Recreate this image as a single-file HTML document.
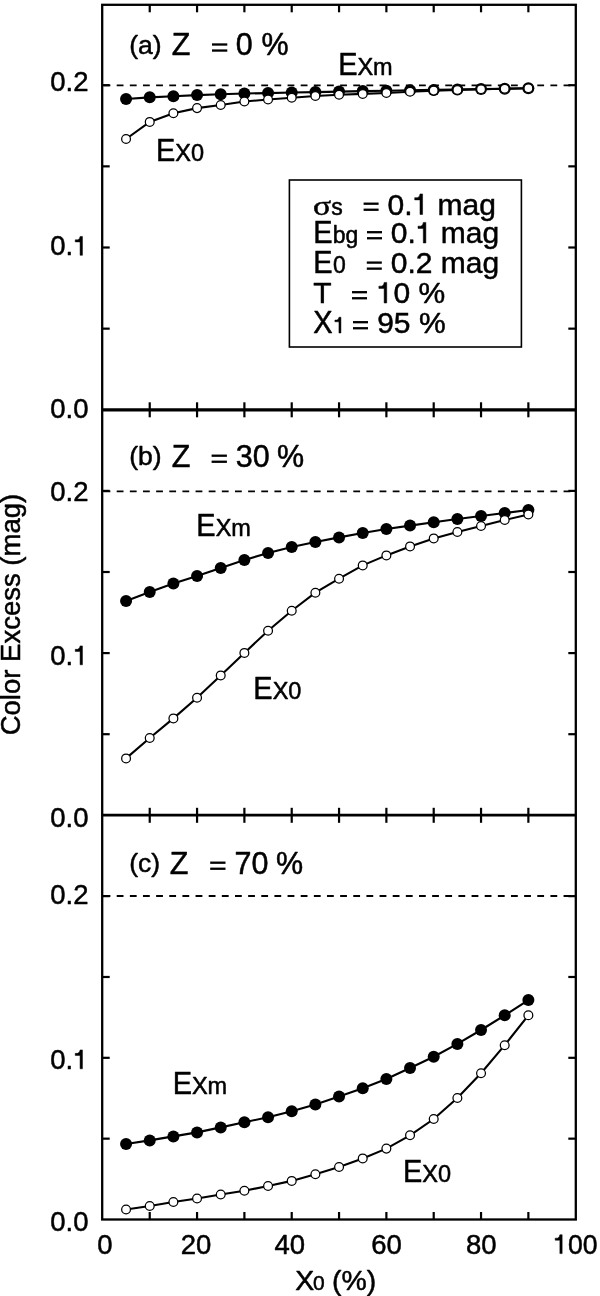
<!DOCTYPE html>
<html><head><meta charset="utf-8"><style>
html,body{margin:0;padding:0;background:#fff;}
svg{display:block;font-family:"Liberation Sans",sans-serif;will-change:transform;}
text{stroke:#000;stroke-width:0.5px;stroke-linejoin:round;white-space:pre;}
</style></head><body>
<svg width="600" height="1296" viewBox="0 0 600 1296" xml:space="preserve" font-family="Liberation Sans, sans-serif"><g stroke="#000" stroke-width="2.3" fill="none">
<rect x="102.2" y="4.8" width="473.59999999999997" height="1214.7"/>
</g>
<g stroke="#000">
<line x1="102.2" y1="409.9" x2="575.8" y2="409.9" stroke-width="3.2"/>
<line x1="102.2" y1="815.2" x2="575.8" y2="815.2" stroke-width="2.7"/>
</g>
<g stroke="#000" stroke-width="2.2">
<line x1="149.73" y1="4.8" x2="149.73" y2="12.3"/>
<line x1="149.73" y1="409.8" x2="149.73" y2="402.3"/>
<line x1="197.06" y1="4.8" x2="197.06" y2="12.3"/>
<line x1="197.06" y1="409.8" x2="197.06" y2="402.3"/>
<line x1="244.39" y1="4.8" x2="244.39" y2="12.3"/>
<line x1="244.39" y1="409.8" x2="244.39" y2="402.3"/>
<line x1="291.72" y1="4.8" x2="291.72" y2="12.3"/>
<line x1="291.72" y1="409.8" x2="291.72" y2="402.3"/>
<line x1="339.05" y1="4.8" x2="339.05" y2="12.3"/>
<line x1="339.05" y1="409.8" x2="339.05" y2="402.3"/>
<line x1="386.38" y1="4.8" x2="386.38" y2="12.3"/>
<line x1="386.38" y1="409.8" x2="386.38" y2="402.3"/>
<line x1="433.71" y1="4.8" x2="433.71" y2="12.3"/>
<line x1="433.71" y1="409.8" x2="433.71" y2="402.3"/>
<line x1="481.04" y1="4.8" x2="481.04" y2="12.3"/>
<line x1="481.04" y1="409.8" x2="481.04" y2="402.3"/>
<line x1="528.37" y1="4.8" x2="528.37" y2="12.3"/>
<line x1="528.37" y1="409.8" x2="528.37" y2="402.3"/>
<line x1="102.2" y1="328.65" x2="109.7" y2="328.65"/>
<line x1="575.8" y1="328.65" x2="568.3" y2="328.65"/>
<line x1="102.2" y1="247.50" x2="109.7" y2="247.50"/>
<line x1="575.8" y1="247.50" x2="568.3" y2="247.50"/>
<line x1="102.2" y1="166.35" x2="109.7" y2="166.35"/>
<line x1="575.8" y1="166.35" x2="568.3" y2="166.35"/>
<line x1="102.2" y1="85.20" x2="109.7" y2="85.20"/>
<line x1="575.8" y1="85.20" x2="568.3" y2="85.20"/>
<line x1="149.73" y1="409.8" x2="149.73" y2="417.3"/>
<line x1="149.73" y1="815.3" x2="149.73" y2="807.8"/>
<line x1="197.06" y1="409.8" x2="197.06" y2="417.3"/>
<line x1="197.06" y1="815.3" x2="197.06" y2="807.8"/>
<line x1="244.39" y1="409.8" x2="244.39" y2="417.3"/>
<line x1="244.39" y1="815.3" x2="244.39" y2="807.8"/>
<line x1="291.72" y1="409.8" x2="291.72" y2="417.3"/>
<line x1="291.72" y1="815.3" x2="291.72" y2="807.8"/>
<line x1="339.05" y1="409.8" x2="339.05" y2="417.3"/>
<line x1="339.05" y1="815.3" x2="339.05" y2="807.8"/>
<line x1="386.38" y1="409.8" x2="386.38" y2="417.3"/>
<line x1="386.38" y1="815.3" x2="386.38" y2="807.8"/>
<line x1="433.71" y1="409.8" x2="433.71" y2="417.3"/>
<line x1="433.71" y1="815.3" x2="433.71" y2="807.8"/>
<line x1="481.04" y1="409.8" x2="481.04" y2="417.3"/>
<line x1="481.04" y1="815.3" x2="481.04" y2="807.8"/>
<line x1="528.37" y1="409.8" x2="528.37" y2="417.3"/>
<line x1="528.37" y1="815.3" x2="528.37" y2="807.8"/>
<line x1="102.2" y1="734.20" x2="109.7" y2="734.20"/>
<line x1="575.8" y1="734.20" x2="568.3" y2="734.20"/>
<line x1="102.2" y1="653.10" x2="109.7" y2="653.10"/>
<line x1="575.8" y1="653.10" x2="568.3" y2="653.10"/>
<line x1="102.2" y1="572.00" x2="109.7" y2="572.00"/>
<line x1="575.8" y1="572.00" x2="568.3" y2="572.00"/>
<line x1="102.2" y1="490.90" x2="109.7" y2="490.90"/>
<line x1="575.8" y1="490.90" x2="568.3" y2="490.90"/>
<line x1="149.73" y1="815.3" x2="149.73" y2="822.8"/>
<line x1="149.73" y1="1219.5" x2="149.73" y2="1212.0"/>
<line x1="197.06" y1="815.3" x2="197.06" y2="822.8"/>
<line x1="197.06" y1="1219.5" x2="197.06" y2="1212.0"/>
<line x1="244.39" y1="815.3" x2="244.39" y2="822.8"/>
<line x1="244.39" y1="1219.5" x2="244.39" y2="1212.0"/>
<line x1="291.72" y1="815.3" x2="291.72" y2="822.8"/>
<line x1="291.72" y1="1219.5" x2="291.72" y2="1212.0"/>
<line x1="339.05" y1="815.3" x2="339.05" y2="822.8"/>
<line x1="339.05" y1="1219.5" x2="339.05" y2="1212.0"/>
<line x1="386.38" y1="815.3" x2="386.38" y2="822.8"/>
<line x1="386.38" y1="1219.5" x2="386.38" y2="1212.0"/>
<line x1="433.71" y1="815.3" x2="433.71" y2="822.8"/>
<line x1="433.71" y1="1219.5" x2="433.71" y2="1212.0"/>
<line x1="481.04" y1="815.3" x2="481.04" y2="822.8"/>
<line x1="481.04" y1="1219.5" x2="481.04" y2="1212.0"/>
<line x1="528.37" y1="815.3" x2="528.37" y2="822.8"/>
<line x1="528.37" y1="1219.5" x2="528.37" y2="1212.0"/>
<line x1="102.2" y1="1138.66" x2="109.7" y2="1138.66"/>
<line x1="575.8" y1="1138.66" x2="568.3" y2="1138.66"/>
<line x1="102.2" y1="1057.82" x2="109.7" y2="1057.82"/>
<line x1="575.8" y1="1057.82" x2="568.3" y2="1057.82"/>
<line x1="102.2" y1="976.98" x2="109.7" y2="976.98"/>
<line x1="575.8" y1="976.98" x2="568.3" y2="976.98"/>
<line x1="102.2" y1="896.14" x2="109.7" y2="896.14"/>
<line x1="575.8" y1="896.14" x2="568.3" y2="896.14"/>
</g>
<g stroke="#000" stroke-width="1.8" stroke-dasharray="6.8 6.343">
<line x1="103.56" y1="85.4" x2="575.8" y2="85.4"/>
<line x1="103.56" y1="491.3" x2="575.8" y2="491.3"/>
<line x1="103.56" y1="896" x2="575.8" y2="896"/>
</g>
<polyline points="126.06,99 149.73,97.35 173.39,96.2 197.06,95.1 220.72,94.3 244.39,93.5 268.06,93.1 291.72,92.5 315.38,92.1 339.05,91.6 362.72,91.1 386.38,90.7 410.04,90.3 433.71,89.9 457.38,89.5 481.04,89.1 504.70,88.7 528.37,88.3" fill="none" stroke="#000" stroke-width="2.1"/>
<circle cx="126.06" cy="99" r="6" fill="#000"/>
<circle cx="149.73" cy="97.35" r="6" fill="#000"/>
<circle cx="173.39" cy="96.2" r="6" fill="#000"/>
<circle cx="197.06" cy="95.1" r="6" fill="#000"/>
<circle cx="220.72" cy="94.3" r="6" fill="#000"/>
<circle cx="244.39" cy="93.5" r="6" fill="#000"/>
<circle cx="268.06" cy="93.1" r="6" fill="#000"/>
<circle cx="291.72" cy="92.5" r="6" fill="#000"/>
<circle cx="315.38" cy="92.1" r="6" fill="#000"/>
<circle cx="339.05" cy="91.6" r="6" fill="#000"/>
<circle cx="362.72" cy="91.1" r="6" fill="#000"/>
<circle cx="386.38" cy="90.7" r="6" fill="#000"/>
<circle cx="410.04" cy="90.3" r="6" fill="#000"/>
<circle cx="433.71" cy="89.9" r="6" fill="#000"/>
<circle cx="457.38" cy="89.5" r="6" fill="#000"/>
<circle cx="481.04" cy="89.1" r="6" fill="#000"/>
<circle cx="504.70" cy="88.7" r="6" fill="#000"/>
<circle cx="528.37" cy="88.3" r="6" fill="#000"/>
<polyline points="126.06,139 149.73,121.9 173.39,113.3 197.06,108.1 220.72,105 244.39,101.5 268.06,99.5 291.72,97.75 315.38,96 339.05,94.8 362.72,93.9 386.38,93.0 410.04,91.8 433.71,90.6 457.38,89.9 481.04,89.3 504.70,88.8 528.37,88.3" fill="none" stroke="#000" stroke-width="2.1"/>
<circle cx="126.06" cy="139" r="4.4" fill="#fff" stroke="#000" stroke-width="1.25"/>
<circle cx="149.73" cy="121.9" r="4.4" fill="#fff" stroke="#000" stroke-width="1.25"/>
<circle cx="173.39" cy="113.3" r="4.4" fill="#fff" stroke="#000" stroke-width="1.25"/>
<circle cx="197.06" cy="108.1" r="4.4" fill="#fff" stroke="#000" stroke-width="1.25"/>
<circle cx="220.72" cy="105" r="4.4" fill="#fff" stroke="#000" stroke-width="1.25"/>
<circle cx="244.39" cy="101.5" r="4.4" fill="#fff" stroke="#000" stroke-width="1.25"/>
<circle cx="268.06" cy="99.5" r="4.4" fill="#fff" stroke="#000" stroke-width="1.25"/>
<circle cx="291.72" cy="97.75" r="4.4" fill="#fff" stroke="#000" stroke-width="1.25"/>
<circle cx="315.38" cy="96" r="4.4" fill="#fff" stroke="#000" stroke-width="1.25"/>
<circle cx="339.05" cy="94.8" r="4.4" fill="#fff" stroke="#000" stroke-width="1.25"/>
<circle cx="362.72" cy="93.9" r="4.4" fill="#fff" stroke="#000" stroke-width="1.25"/>
<circle cx="386.38" cy="93.0" r="4.4" fill="#fff" stroke="#000" stroke-width="1.25"/>
<circle cx="410.04" cy="91.8" r="4.4" fill="#fff" stroke="#000" stroke-width="1.25"/>
<circle cx="433.71" cy="90.6" r="4.4" fill="#fff" stroke="#000" stroke-width="1.25"/>
<circle cx="457.38" cy="89.9" r="4.4" fill="#fff" stroke="#000" stroke-width="1.25"/>
<circle cx="481.04" cy="89.3" r="4.4" fill="#fff" stroke="#000" stroke-width="1.25"/>
<circle cx="504.70" cy="88.8" r="4.4" fill="#fff" stroke="#000" stroke-width="1.25"/>
<circle cx="528.37" cy="88.3" r="4.4" fill="#fff" stroke="#000" stroke-width="1.25"/>
<polyline points="126.06,601 149.73,592 173.39,583.6 197.06,576 220.72,568 244.39,560 268.06,553 291.72,547 315.38,542 339.05,537.4 362.72,533 386.38,529 410.04,525.6 433.71,522.2 457.38,519 481.04,516 504.70,513 528.37,510" fill="none" stroke="#000" stroke-width="2.1"/>
<circle cx="126.06" cy="601" r="6" fill="#000"/>
<circle cx="149.73" cy="592" r="6" fill="#000"/>
<circle cx="173.39" cy="583.6" r="6" fill="#000"/>
<circle cx="197.06" cy="576" r="6" fill="#000"/>
<circle cx="220.72" cy="568" r="6" fill="#000"/>
<circle cx="244.39" cy="560" r="6" fill="#000"/>
<circle cx="268.06" cy="553" r="6" fill="#000"/>
<circle cx="291.72" cy="547" r="6" fill="#000"/>
<circle cx="315.38" cy="542" r="6" fill="#000"/>
<circle cx="339.05" cy="537.4" r="6" fill="#000"/>
<circle cx="362.72" cy="533" r="6" fill="#000"/>
<circle cx="386.38" cy="529" r="6" fill="#000"/>
<circle cx="410.04" cy="525.6" r="6" fill="#000"/>
<circle cx="433.71" cy="522.2" r="6" fill="#000"/>
<circle cx="457.38" cy="519" r="6" fill="#000"/>
<circle cx="481.04" cy="516" r="6" fill="#000"/>
<circle cx="504.70" cy="513" r="6" fill="#000"/>
<circle cx="528.37" cy="510" r="6" fill="#000"/>
<polyline points="126.06,758.4 149.73,738.0 173.39,718.4 197.06,697.8 220.72,675.4 244.39,652.9 268.06,630.8 291.72,610.6999999999999 315.38,592.6999999999999 339.05,578.6999999999999 362.72,565.4 386.38,555.4 410.04,546.4 433.71,538.4 457.38,532.0 481.04,526.0 504.70,520.0 528.37,514.4" fill="none" stroke="#000" stroke-width="2.1"/>
<circle cx="126.06" cy="758.4" r="4.4" fill="#fff" stroke="#000" stroke-width="1.25"/>
<circle cx="149.73" cy="738.0" r="4.4" fill="#fff" stroke="#000" stroke-width="1.25"/>
<circle cx="173.39" cy="718.4" r="4.4" fill="#fff" stroke="#000" stroke-width="1.25"/>
<circle cx="197.06" cy="697.8" r="4.4" fill="#fff" stroke="#000" stroke-width="1.25"/>
<circle cx="220.72" cy="675.4" r="4.4" fill="#fff" stroke="#000" stroke-width="1.25"/>
<circle cx="244.39" cy="652.9" r="4.4" fill="#fff" stroke="#000" stroke-width="1.25"/>
<circle cx="268.06" cy="630.8" r="4.4" fill="#fff" stroke="#000" stroke-width="1.25"/>
<circle cx="291.72" cy="610.6999999999999" r="4.4" fill="#fff" stroke="#000" stroke-width="1.25"/>
<circle cx="315.38" cy="592.6999999999999" r="4.4" fill="#fff" stroke="#000" stroke-width="1.25"/>
<circle cx="339.05" cy="578.6999999999999" r="4.4" fill="#fff" stroke="#000" stroke-width="1.25"/>
<circle cx="362.72" cy="565.4" r="4.4" fill="#fff" stroke="#000" stroke-width="1.25"/>
<circle cx="386.38" cy="555.4" r="4.4" fill="#fff" stroke="#000" stroke-width="1.25"/>
<circle cx="410.04" cy="546.4" r="4.4" fill="#fff" stroke="#000" stroke-width="1.25"/>
<circle cx="433.71" cy="538.4" r="4.4" fill="#fff" stroke="#000" stroke-width="1.25"/>
<circle cx="457.38" cy="532.0" r="4.4" fill="#fff" stroke="#000" stroke-width="1.25"/>
<circle cx="481.04" cy="526.0" r="4.4" fill="#fff" stroke="#000" stroke-width="1.25"/>
<circle cx="504.70" cy="520.0" r="4.4" fill="#fff" stroke="#000" stroke-width="1.25"/>
<circle cx="528.37" cy="514.4" r="4.4" fill="#fff" stroke="#000" stroke-width="1.25"/>
<polyline points="126.06,1144 149.73,1140.4 173.39,1136.4 197.06,1132.4 220.72,1127.4 244.39,1122.3 268.06,1117.2 291.72,1111.3 315.38,1104.4 339.05,1096.6 362.72,1088.3 386.38,1079 410.04,1068 433.71,1056.7 457.38,1043.9 481.04,1030 504.70,1015.3 528.37,1000.1" fill="none" stroke="#000" stroke-width="2.1"/>
<circle cx="126.06" cy="1144" r="6" fill="#000"/>
<circle cx="149.73" cy="1140.4" r="6" fill="#000"/>
<circle cx="173.39" cy="1136.4" r="6" fill="#000"/>
<circle cx="197.06" cy="1132.4" r="6" fill="#000"/>
<circle cx="220.72" cy="1127.4" r="6" fill="#000"/>
<circle cx="244.39" cy="1122.3" r="6" fill="#000"/>
<circle cx="268.06" cy="1117.2" r="6" fill="#000"/>
<circle cx="291.72" cy="1111.3" r="6" fill="#000"/>
<circle cx="315.38" cy="1104.4" r="6" fill="#000"/>
<circle cx="339.05" cy="1096.6" r="6" fill="#000"/>
<circle cx="362.72" cy="1088.3" r="6" fill="#000"/>
<circle cx="386.38" cy="1079" r="6" fill="#000"/>
<circle cx="410.04" cy="1068" r="6" fill="#000"/>
<circle cx="433.71" cy="1056.7" r="6" fill="#000"/>
<circle cx="457.38" cy="1043.9" r="6" fill="#000"/>
<circle cx="481.04" cy="1030" r="6" fill="#000"/>
<circle cx="504.70" cy="1015.3" r="6" fill="#000"/>
<circle cx="528.37" cy="1000.1" r="6" fill="#000"/>
<polyline points="126.06,1209.5 149.73,1206 173.39,1202 197.06,1198.5 220.72,1194.5 244.39,1190.8 268.06,1186 291.72,1180.9 315.38,1174.2 339.05,1167 362.72,1158.4 386.38,1148.6 410.04,1135.3 433.71,1119 457.38,1098 481.04,1073.2 504.70,1045.2 528.37,1015.3" fill="none" stroke="#000" stroke-width="2.1"/>
<circle cx="126.06" cy="1209.5" r="4.4" fill="#fff" stroke="#000" stroke-width="1.25"/>
<circle cx="149.73" cy="1206" r="4.4" fill="#fff" stroke="#000" stroke-width="1.25"/>
<circle cx="173.39" cy="1202" r="4.4" fill="#fff" stroke="#000" stroke-width="1.25"/>
<circle cx="197.06" cy="1198.5" r="4.4" fill="#fff" stroke="#000" stroke-width="1.25"/>
<circle cx="220.72" cy="1194.5" r="4.4" fill="#fff" stroke="#000" stroke-width="1.25"/>
<circle cx="244.39" cy="1190.8" r="4.4" fill="#fff" stroke="#000" stroke-width="1.25"/>
<circle cx="268.06" cy="1186" r="4.4" fill="#fff" stroke="#000" stroke-width="1.25"/>
<circle cx="291.72" cy="1180.9" r="4.4" fill="#fff" stroke="#000" stroke-width="1.25"/>
<circle cx="315.38" cy="1174.2" r="4.4" fill="#fff" stroke="#000" stroke-width="1.25"/>
<circle cx="339.05" cy="1167" r="4.4" fill="#fff" stroke="#000" stroke-width="1.25"/>
<circle cx="362.72" cy="1158.4" r="4.4" fill="#fff" stroke="#000" stroke-width="1.25"/>
<circle cx="386.38" cy="1148.6" r="4.4" fill="#fff" stroke="#000" stroke-width="1.25"/>
<circle cx="410.04" cy="1135.3" r="4.4" fill="#fff" stroke="#000" stroke-width="1.25"/>
<circle cx="433.71" cy="1119" r="4.4" fill="#fff" stroke="#000" stroke-width="1.25"/>
<circle cx="457.38" cy="1098" r="4.4" fill="#fff" stroke="#000" stroke-width="1.25"/>
<circle cx="481.04" cy="1073.2" r="4.4" fill="#fff" stroke="#000" stroke-width="1.25"/>
<circle cx="504.70" cy="1045.2" r="4.4" fill="#fff" stroke="#000" stroke-width="1.25"/>
<circle cx="528.37" cy="1015.3" r="4.4" fill="#fff" stroke="#000" stroke-width="1.25"/>
<rect x="289.4" y="180" width="232" height="167" fill="none" stroke="#000" stroke-width="1.6"/>
<text transform="translate(338.13 74.5) scale(0.94 1)" font-size="30.8">E</text>
<text x="357.44" y="74.5" font-size="23.5">Xm</text>
<text transform="translate(155.93 161.2) scale(0.94 1)" font-size="30.8">E</text>
<text x="175.24" y="161.2" font-size="23.5">X0</text>
<text transform="translate(196.33 535.9) scale(0.94 1)" font-size="30.8">E</text>
<text x="215.64" y="535.9" font-size="23.5">Xm</text>
<text transform="translate(253.33 699.2) scale(0.94 1)" font-size="30.8">E</text>
<text x="272.64" y="699.2" font-size="23.5">X0</text>
<text transform="translate(172.63 1094.1) scale(0.94 1)" font-size="30.8">E</text>
<text x="191.94" y="1094.1" font-size="23.5">Xm</text>
<text transform="translate(402.93 1181.5) scale(0.94 1)" font-size="30.8">E</text>
<text x="422.24" y="1181.5" font-size="23.5">X0</text>
<text x="129.26" y="54.20" font-size="26.5" >(a)</text>
<text x="171.73" y="55.30" font-size="30.5" >Z</text>
<rect x="212.00" y="43.35" width="15.3" height="2.3" fill="#000"/>
<rect x="212.00" y="49.40" width="15.3" height="2.3" fill="#000"/>
<text x="235.81" y="55.30" font-size="30.5" >0</text>
<text x="261.41" y="55.30" font-size="30.5" >%</text>
<text x="129.26" y="465.40" font-size="26.5" >(b)</text>
<text x="171.73" y="466.50" font-size="30.5" >Z</text>
<rect x="211.60" y="454.55" width="15.3" height="2.3" fill="#000"/>
<rect x="211.60" y="460.60" width="15.3" height="2.3" fill="#000"/>
<text x="235.84" y="466.50" font-size="30.5" >30</text>
<text x="276.91" y="466.50" font-size="30.5" >%</text>
<text x="129.26" y="872.40" font-size="26.5" >(c)</text>
<text x="169.73" y="873.50" font-size="30.5" >Z</text>
<rect x="210.20" y="861.55" width="15.3" height="2.3" fill="#000"/>
<rect x="210.20" y="867.60" width="15.3" height="2.3" fill="#000"/>
<text x="234.44" y="873.50" font-size="30.5" >70</text>
<text x="275.91" y="873.50" font-size="30.5" >%</text>
<text x="50.33" y="90.90" font-size="27.5" >0.2</text>
<text x="50.33" y="255.30" font-size="27.5" >0.</text>
<path d="M75.24,239.84 L77.58,239.84 Q79.86,239.41 80.08,236.44 L82.45,236.44 L82.45,255.30 L80.08,255.30 L80.08,241.91 L75.24,241.91 Z" fill="#000" stroke="#000" stroke-width="0.5" stroke-linejoin="round"/>
<text x="50.33" y="417.70" font-size="27.5" >0.0</text>
<text x="50.33" y="500.60" font-size="27.5" >0.2</text>
<text x="50.33" y="664.80" font-size="27.5" >0.</text>
<path d="M75.24,649.34 L77.58,649.34 Q79.86,648.90 80.08,645.93 L82.45,645.93 L82.45,664.80 L80.08,664.80 L80.08,651.41 L75.24,651.41 Z" fill="#000" stroke="#000" stroke-width="0.5" stroke-linejoin="round"/>
<text x="50.33" y="827.40" font-size="27.5" >0.0</text>
<text x="50.33" y="904.20" font-size="27.5" >0.2</text>
<text x="50.33" y="1068.80" font-size="27.5" >0.</text>
<path d="M75.24,1053.35 L77.58,1053.35 Q79.86,1052.90 80.08,1049.93 L82.45,1049.93 L82.45,1068.80 L80.08,1068.80 L80.08,1055.41 L75.24,1055.41 Z" fill="#000" stroke="#000" stroke-width="0.5" stroke-linejoin="round"/>
<text x="50.33" y="1230.90" font-size="27.5" >0.0</text>
<text x="97.33" y="1253.60" font-size="27.5" >0</text>
<text x="180.82" y="1253.60" font-size="27.5" >20</text>
<text x="274.57" y="1253.60" font-size="27.5" >40</text>
<text x="371.20" y="1253.60" font-size="27.5" >60</text>
<text x="465.90" y="1253.60" font-size="27.5" >80</text>
<path d="M555.20,1238.14 L557.46,1238.14 Q559.66,1237.70 559.87,1234.73 L562.15,1234.73 L562.15,1253.60 L559.87,1253.60 L559.87,1240.21 L555.20,1240.21 Z" fill="#000" stroke="#000" stroke-width="0.5" stroke-linejoin="round"/>
<text transform="translate(568.05 1253.60) scale(0.965 1)" font-size="27.5" >00</text>
<text x="295.16" y="1290.30" font-size="28.4" >X</text>
<text x="312.90" y="1290.3" font-size="21">0</text>
<text x="331.94" y="1290.30" font-size="28.4" >(%)</text>
<text transform="translate(20.4 735.30) rotate(-90)" font-size="27.5">Color Excess (mag)</text>
<text transform="translate(312.9 214.5) scale(1.12 0.89)" font-size="30" font-family="Liberation Serif, serif">σ</text>
<text x="331.26" y="214.50" font-size="23" >s</text>
<rect x="363.60" y="202.55" width="15" height="2.3" fill="#000"/>
<rect x="363.60" y="208.60" width="15" height="2.3" fill="#000"/>
<text x="387.53" y="214.50" font-size="30" >0.</text>
<path d="M414.71,197.64 L417.26,197.64 Q419.75,197.16 419.99,193.92 L422.57,193.92 L422.57,214.50 L419.99,214.50 L419.99,199.89 L414.71,199.89 Z" fill="#000" stroke="#000" stroke-width="0.5" stroke-linejoin="round"/>
<text x="429.23" y="214.50" font-size="30" > mag</text>
<text transform="translate(313.13 243) scale(0.94 1)" font-size="30.8">E</text>
<text x="332.72" y="243.00" font-size="23" >bg</text>
<rect x="367.00" y="231.05" width="15" height="2.3" fill="#000"/>
<rect x="367.00" y="237.10" width="15" height="2.3" fill="#000"/>
<text x="390.83" y="243.00" font-size="30" >0.</text>
<path d="M418.01,226.14 L420.56,226.14 Q423.05,225.66 423.29,222.42 L425.87,222.42 L425.87,243.00 L423.29,243.00 L423.29,228.39 L418.01,228.39 Z" fill="#000" stroke="#000" stroke-width="0.5" stroke-linejoin="round"/>
<text x="432.53" y="243.00" font-size="30" > mag</text>
<text transform="translate(313.13 273.4) scale(0.94 1)" font-size="30.8">E</text>
<text x="333.10" y="273.40" font-size="23" >0</text>
<rect x="366.80" y="261.45" width="15" height="2.3" fill="#000"/>
<rect x="366.80" y="267.50" width="15" height="2.3" fill="#000"/>
<text x="390.83" y="273.40" font-size="30" >0.2 mag</text>
<text x="313.33" y="303.00" font-size="30" >T</text>
<rect x="352.00" y="291.05" width="15" height="2.3" fill="#000"/>
<rect x="352.00" y="297.10" width="15" height="2.3" fill="#000"/>
<path d="M378.87,286.14 L381.42,286.14 Q383.91,285.66 384.15,282.42 L386.73,282.42 L386.73,303.00 L384.15,303.00 L384.15,288.39 L378.87,288.39 Z" fill="#000" stroke="#000" stroke-width="0.5" stroke-linejoin="round"/>
<text x="393.40" y="303.00" font-size="30" >0 %</text>
<text transform="translate(313.35 333) scale(0.94 1)" font-size="30.8">X</text>
<path d="M334.90,320.07 L336.86,320.07 Q338.77,319.71 338.95,317.22 L340.93,317.22 L340.93,333.00 L338.95,333.00 L338.95,321.80 L334.90,321.80 Z" fill="#000" stroke="#000" stroke-width="0.5" stroke-linejoin="round"/>
<rect x="353.00" y="321.05" width="15" height="2.3" fill="#000"/>
<rect x="353.00" y="327.10" width="15" height="2.3" fill="#000"/>
<text x="377.19" y="333.00" font-size="30" >95 %</text></svg>
</body></html>
